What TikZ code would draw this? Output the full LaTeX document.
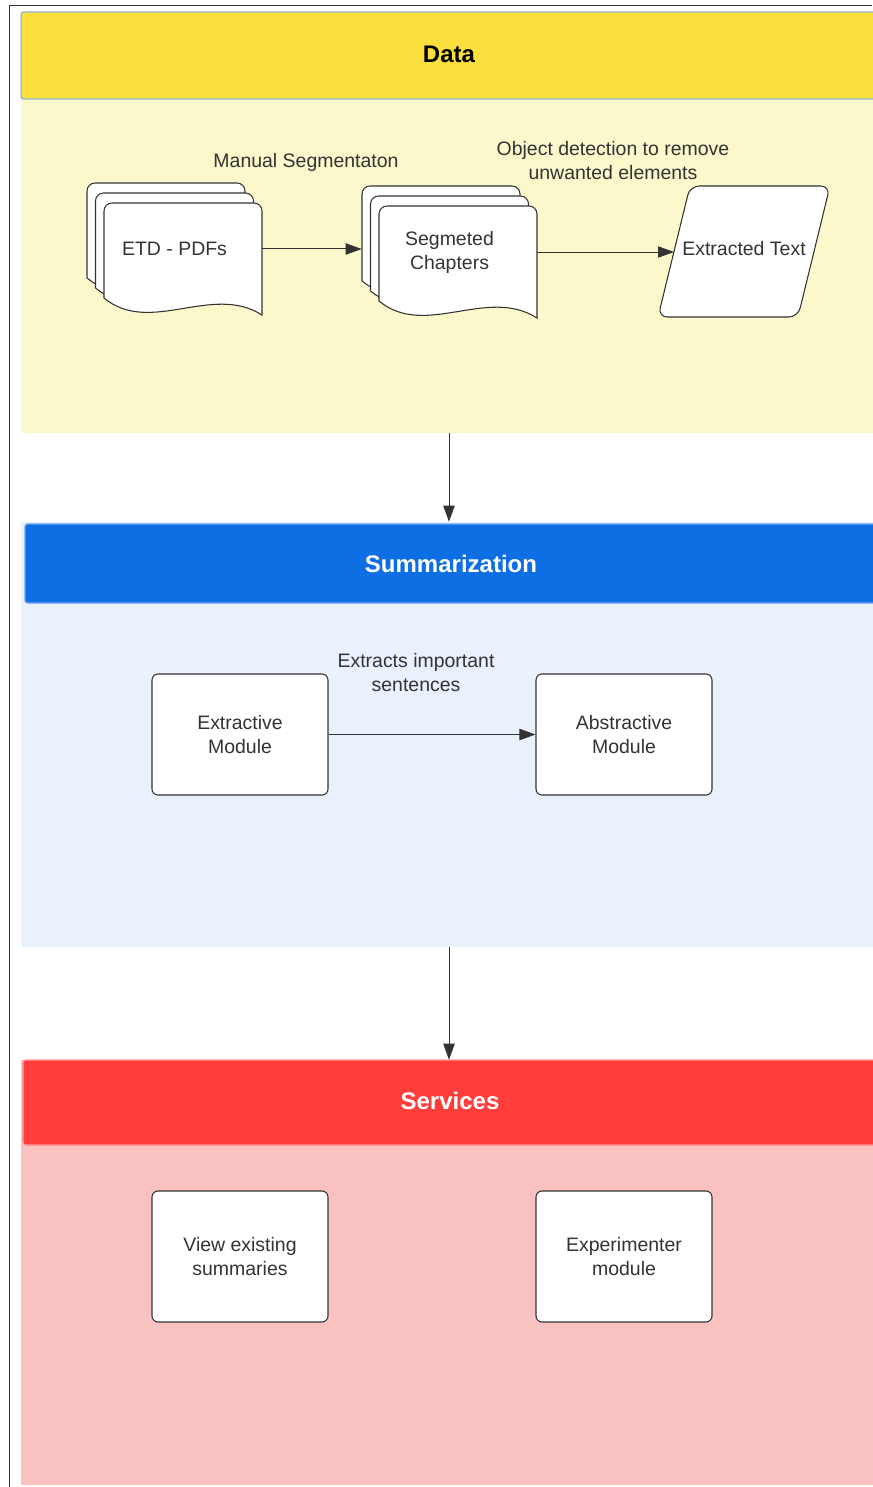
\documentclass[tikz,border=0pt]{standalone}
\usepackage{fontspec}
\setmainfont{Liberation Sans}
\usetikzlibrary{arrows.meta}

\definecolor{dataHead}{RGB}{251,223,60}
\definecolor{dataBody}{RGB}{251,248,204}
\definecolor{dataLine}{RGB}{150,182,214}
\definecolor{sumHead}{RGB}{13,111,227}
\definecolor{sumBody}{RGB}{233,241,253}
\definecolor{sumLine}{RGB}{110,165,236}
\definecolor{srvHead}{RGB}{255,62,60}
\definecolor{srvBody}{RGB}{250,193,193}
\definecolor{srvLine}{RGB}{252,150,150}
\definecolor{ink}{RGB}{51,51,51}

\tikzset{
  panel/.style={rectangle, inner sep=0pt, minimum width=642pt},
  headbox/.style={rectangle, rounded corners=2pt, line width=1pt, inner sep=0pt,
    font=\fontsize{18pt}{22pt}\selectfont\bfseries},
  label/.style={inner sep=0pt, align=center, text=ink, font=\fontsize{14.6pt}{18pt}\selectfont},
  sheet/.style={draw=ink, fill=white, line width=0.8pt},
  doctext/.style={label, minimum width=131.25pt, minimum height=99pt},
  modbox/.style={label, draw=ink, fill=white, line width=0.8pt, rounded corners=4.5pt,
    minimum width=132pt},
  arr/.style={draw=ink, line width=0.75pt, -{Triangle[length=12pt,width=8.5pt]}},
}

% stack of three wavy sheets, #1 name, (#2,#3) top left of front sheet, #4 text
\newcommand{\docstack}[4]{%
  \foreach \k in {2,1,0}{
    \draw[sheet] ({#2+158-8.5*\k},{#3+112-10*\k}) .. controls ({#2+108-8.5*\k},{#3+80-10*\k}) and ({#2+46-8.5*\k},{#3+133-10*\k}) .. ({#2-8.5*\k},{#3+95-10*\k}) [rounded corners=6pt] -- ({#2-8.5*\k},{#3-10*\k}) -- ({#2+158-8.5*\k},{#3-10*\k}) -- ({#2+158-8.5*\k},{#3+20-10*\k}) [sharp corners] -- cycle;
  }
  \node[doctext] (#1) at ({#2+70.5},{#3+46}) {#4};
}

\begin{document}
\begin{tikzpicture}[x=0.75pt,y=0.75pt,yscale=-1,xscale=1]
    \useasboundingbox (0,0) rectangle (872,1487);

    %Shape: frame
    \draw [line width=1pt, color=ink] (872,5.5) -- (9.5,5.5) -- (9.5,1487);

    %Shape: panels
    \node [panel, fill=dataBody, minimum height=315.75pt] (databody) at (449,222.5) {};
    \node [panel, fill=sumBody, minimum height=318.75pt] (sumbody) at (449,734.5) {};
    \node [panel, fill=srvBody, minimum height=318.75pt] (srvbody) at (449,1272.5) {};

    %Shape: headers
    \node [headbox, fill=dataHead, draw=dataLine, minimum width=642pt, minimum height=65.25pt] (datahead) at (449,55.5) {\raisebox{2pt}{Data}};
    \node [headbox, fill=sumHead, draw=sumLine, text=white, minimum width=639pt, minimum height=59.25pt] (sumhead) at (451,563.5) {Summarization};
    \node [headbox, fill=srvHead, draw=srvLine, text=white, minimum width=640.5pt, minimum height=63.75pt] (srvhead) at (450,1102.5) {\raisebox{2pt}{Services}};

    %Shape: Data
    \docstack{etd}{104}{203}{ETD - PDFs}
    \docstack{segch}{379}{206}{Segmeted\\Chapters}
    %Shape: Parallelogram
    \draw [sheet, rounded corners=7pt] (658,317) -- (690,186) -- (830,186) -- (798,317) -- cycle;
    \coordinate (extin) at (674,252);
    \node [label] (ext) at (744,249) {Extracted Text};

    %Shape: Summarization
    \node [modbox, minimum height=90.75pt] (extmod) at (240,734.5) {Extractive\\Module};
    \node [modbox, minimum height=90.75pt] (absmod) at (624,734.5) {Abstractive\\Module};

    %Shape: Services
    \node [modbox, minimum height=98.25pt] (viewsum) at (240,1256.5) {View existing\\summaries};
    \node [modbox, minimum height=98.25pt] (expmod) at (624,1256.5) {Experimenter\\module};

    %Straight Lines
    \draw [arr] (etd.east) -- (etd.east -| segch.west);
    \draw [arr] (segch.east) -- (extin);
    \draw [arr] (extmod.east) -- (absmod.west);
    \draw [arr] (databody.south -| datahead.south) -- (sumbody.north -| datahead.south);
    \draw [arr] (sumbody.south -| datahead.south) -- (srvbody.north -| datahead.south);

    % Text Node
    \node [label] (segnote) at (306,162) {Manual Segmentaton};
    % Text Node
    \node [label] (objnote) at (613,161) {Object detection to remove\\unwanted elements};
    % Text Node
    \node [label] (extnote) at (416,673) {Extracts important\\sentences};

\end{tikzpicture}
\end{document}
